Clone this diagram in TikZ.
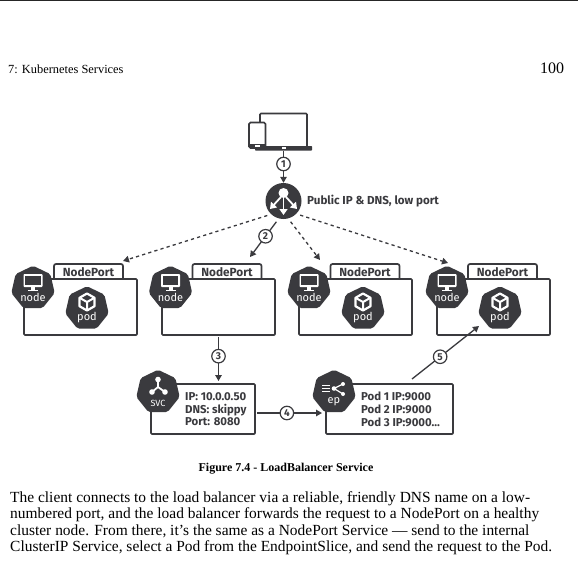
\documentclass[tikz,border=0pt]{standalone}
\usepackage{fontspec}
\setmainfont{Liberation Serif}
\newfontfamily\dia{Fira Sans}
\usetikzlibrary{shapes.geometric,arrows.meta,shadows}
\definecolor{ink}{HTML}{3A3A3E}
\tikzset{
 x=1pt,y=-1pt,
 box/.style={draw=ink,line width=1.7pt,fill=white,rounded corners=1pt,inner sep=0pt,drop shadow={shadow xshift=0.8pt,shadow yshift=-1.2pt,opacity=.18}},
 tabbox/.style={draw=ink,line width=1.7pt,fill=white,rounded corners=2pt,inner sep=0pt,minimum width=69pt,minimum height=16pt,font=\dia\bfseries\fontsize{11.8}{12}\selectfont,text=ink},
 hept/.style={regular polygon,regular polygon sides=7,fill=ink,inner sep=0pt,minimum size=44.5pt,rounded corners=2pt},
 hlabel/.style={font=\dia\fontsize{11}{11}\selectfont,text=white,inner sep=0pt},
 num/.style={circle,draw=ink,line width=1.2pt,fill=white,inner sep=0pt,minimum size=13.5pt,font=\dia\bfseries\fontsize{10}{10}\selectfont,text=ink},
 arr/.style={draw=ink,line width=1.3pt,-{Triangle[length=6pt,width=6.5pt]}},
 darr/.style={arr,dash pattern=on 3.2pt off 3.2pt},
 info/.style={font=\dia\bfseries\fontsize{11.4}{12.6}\selectfont,text=ink,inner sep=0pt,anchor=west,align=left},
 pagetext/.style={inner sep=0pt,anchor=base west},
 monitor/.pic={
   \fill[white,rounded corners=.8pt] (-9.5,-7.5) rectangle (9.5,5.5);
   \fill[ink] (-7.6,-5.6) rectangle (7.6,3.4);
   \fill[white] (-2,5) rectangle (2,9);
   \fill[white] (-5,8) rectangle (5,9.6);
 },
 cube/.pic={
   \draw[white,line width=2.2pt,line join=round] (0,-8.5) -- (7.5,-4.2) -- (7.5,4.2) -- (0,8.5) -- (-7.5,4.2) -- (-7.5,-4.2) -- cycle;
   \draw[white,line width=2pt,line join=round] (-7.5,-4.2) -- (0,0) -- (7.5,-4.2) (0,0) -- (0,8.5);
 },
}
\begin{document}
\begin{tikzpicture}
\useasboundingbox (0,0) rectangle (578,565);
\fill[white] (0,0) rectangle (578,565);
\fill[black!85] (0,0) rectangle (578,1);
% page text
\node[pagetext,font=\fontsize{12.4}{14}\selectfont] (head) at (8,73) {7: Kubernetes Services};
\node[pagetext,font=\fontsize{16}{16}\selectfont] (pageno) at (540,73) {100};
\node[inner sep=0pt,font=\bfseries\fontsize{12}{14}\selectfont] (cap) at (286,469) {Figure 7.4 - LoadBalancer Service};
\node[pagetext,font=\fontsize{15.45}{16}\selectfont] (l1) at (10,502.5) {The client connects to the load balancer via a reliable, friendly DNS name on a low-};
\node[pagetext,font=\fontsize{15.45}{16}\selectfont] (l2) at (10,518.7) {numbered port, and the load balancer forwards the request to a NodePort on a healthy};
\node[pagetext,font=\fontsize{15.45}{16}\selectfont] (l3) at (10,535.5) {cluster node. From there, it’s the same as a NodePort Service — send to the internal};
\node[pagetext,font=\fontsize{15.45}{16}\selectfont] (l4) at (10,551.5) {ClusterIP Service, select a Pod from the EndpointSlice, and send the request to the Pod.};
% client devices
\draw[ink,line width=1.6pt,rounded corners=1pt,fill=white] (260,146.5) -- (260,113.5) -- (307,113.5) -- (307,146.5);
\fill[ink,rounded corners=.6pt] (255,146) rectangle (312,150.5);
\fill[white] (282,147) rectangle (286,148.6);
\draw[ink,line width=1.6pt,rounded corners=1.5pt,fill=white] (249,122.5) rectangle (265.5,148);
\fill[ink] (249,143.5) rectangle (265.5,148);
\fill[white] (255,145) rectangle (260,146.5);
\coordinate (client) at (283.5,150.5);
% load balancer
\node[circle,fill=ink,minimum size=36pt,inner sep=0pt] (lb) at (283.5,201) {};
\fill[white] (283.5,193) circle (5);
\draw[white,line width=1.8pt,-{Triangle[length=6pt,width=8pt]}] (283.5,196) -- (283.5,215);
\draw[white,line width=1.8pt,-{Triangle[length=6pt,width=8pt]}] (281,197) -- (270,209);
\draw[white,line width=1.8pt,-{Triangle[length=6pt,width=8pt]}] (286,197) -- (297,209);
\node[font=\dia\bfseries\fontsize{11.6}{12}\selectfont,text=ink,inner sep=0pt,anchor=west] (lblab) at (307,201.5) {Public IP \& DNS, low port};
% NodePort boxes
\foreach \n/\bx/\tabx/\hx in {1/80.5/88.5/33, 2/218.5/227/170.5, 3/355.5/365/309, 4/493.5/502.5/447}{
  \node[tabbox] (tab\n) at (\tabx,272) {NodePort};
  \node[box,minimum width=113pt,minimum height=56pt] (box\n) at (\bx,307) {};
  \node[hept] (node\n) at (\hx,288) {};
  \pic at (\hx,281.5) {monitor};
  \node[hlabel] (nodelab\n) at (\hx,297.5) {node};
}
\foreach \n/\px in {1/87,3/363,4/500}{
  \node[hept] (pod\n) at (\px,308.5) {};
  \pic at (\px,302) {cube};
  \node[hlabel] (podlab\n) at (\px,318) {pod};
}
% svc
\node[box,minimum width=104pt,minimum height=50pt] (svcbox) at (203,409) {};
\node[hept] (svc) at (158,392) {};
\node[hlabel,font=\dia\fontsize{9}{9}\selectfont] (svclab) at (158,403) {SVC};
\draw[white,line width=1.8pt] (158,380) -- (158,387) -- (152,392) (158,387) -- (165,392);
\fill[white] (158,379.5) circle (2.8) (152,392) circle (2.8) (165,392) circle (2.8);
\node[info] (svctext) at (185,409.3) {IP: 10.0.0.50\\DNS: skippy\\Port: 8080};
% ep
\node[box,minimum width=127pt,minimum height=50pt] (epbox) at (389.5,409) {};
\node[hept] (ep) at (334,392) {};
\node[hlabel] (eplab) at (334,402) {ep};
\draw[white,line width=.8pt] (322,385.5) -- (330,385.5) (322,388.5) -- (330,388.5) (322,391.5) -- (330,391.5);
\draw[white,line width=1.2pt] (343,384) -- (334,388.5) -- (343,394);
\fill[white] (334,388.5) circle (2.3) (343,384) circle (2) (343,394) circle (2);
\node[info] (eptext) at (361,409.3) {Pod 1 IP:9000\\Pod 2 IP:9000\\Pod 3 IP:9000\ldots};
% connector ends
\coordinate (t2) at (250,257);
\coordinate (t1) at (123,261);
\coordinate (t3) at (320,260);
\coordinate (t4) at (448,263);
\coordinate (t5) at (479,326);
\coordinate (s5) at (412,379);
\coordinate (t6) at (218.5,381);
\coordinate (s4) at (257,413);
\coordinate (t4b) at (322,413);
% connectors
\draw[arr] (client) -- (lb.north);
\draw[darr,shorten <=4pt] (lb.227) -- (t1);
\draw[arr,shorten <=4pt] (lb.255) -- node[num,pos=.46] (n2) {2} (t2);
\draw[darr,shorten <=4pt] (lb.285) -- (t3);
\draw[darr,shorten <=4pt] (lb.315) -- (t4);
\draw[arr,shorten <=1.5pt] (box2.south) -- node[num,pos=.45] (n3) {3} (t6);
\draw[arr] (s4) -- node[num,pos=.46] (n4) {4} (t4b);
\draw[arr] (s5) -- node[num,pos=.42] (n5) {5} (t5);
\node[num] (n1) at (283.5,164) {1};
\end{tikzpicture}
\end{document}
